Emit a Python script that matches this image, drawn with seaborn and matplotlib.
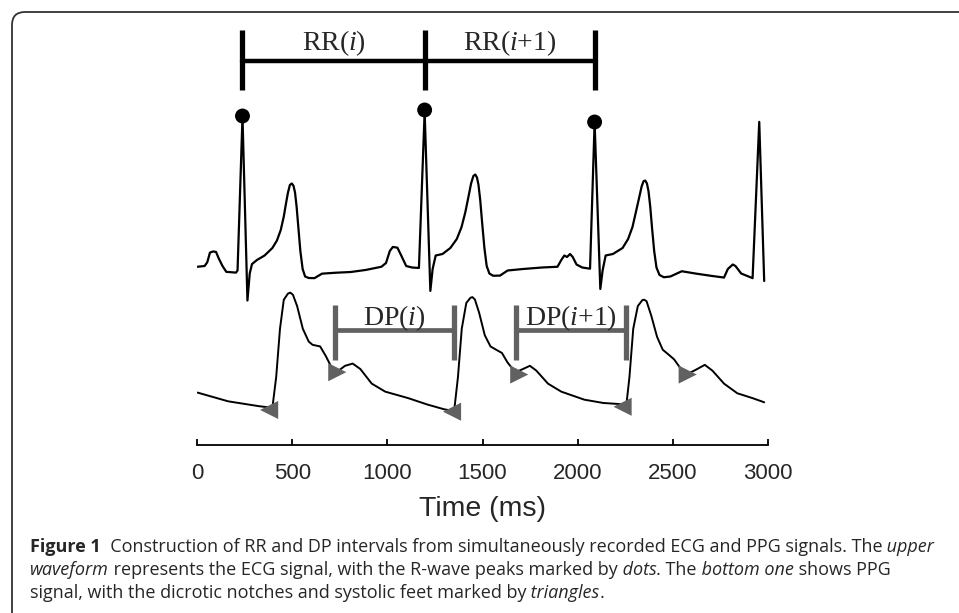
import matplotlib
matplotlib.use("Agg")
import matplotlib.pyplot as plt
import seaborn as sns
from matplotlib.patches import FancyBboxPatch
from matplotlib.transforms import IdentityTransform

# ECG trace (time in ms, amplitude in mV)
ecg_time = [3, 40, 54, 68, 84, 100, 114, 134, 154, 205, 213,
            239, 265, 277, 289, 315, 355, 396, 420, 440, 456, 468, 478, 488, 498, 507, 515, 523,
            533, 543, 555, 568, 587, 617,
            657, 727, 808, 888, 969,
            993, 1013, 1029, 1053, 1073, 1099, 1130, 1166,
            1196, 1226, 1238, 1254, 1290, 1331, 1365, 1390, 1410, 1426, 1440, 1452, 1462, 1471,
            1479, 1488, 1498, 1510, 1522, 1536, 1556,
            1592, 1632, 1713, 1813, 1894,
            1914, 1930, 1944, 1960, 1974, 1994, 2024, 2065,
            2089, 2119, 2131, 2147, 2185, 2236, 2265, 2288, 2306, 2322, 2336, 2346, 2355, 2364,
            2372, 2381, 2391, 2402, 2414, 2430, 2453,
            2487, 2547, 2618, 2698, 2769,
            2789, 2815, 2829, 2859, 2919,
            2954, 2980]
ecg_mv = [-0.005, 0.0, 0.025, 0.089, 0.097, 0.094, 0.051, 0.0, -0.039, -0.044, -0.03,
          0.995, -0.23, -0.05, 0.013, 0.04, 0.07, 0.12, 0.17, 0.24, 0.33, 0.42, 0.49, 0.54, 0.55, 0.535, 0.49, 0.40,
          0.25, 0.10, -0.02, -0.07, -0.08, -0.081,
          -0.051, -0.045, -0.04, -0.026, -0.005,
          0.02, 0.10, 0.127, 0.122, 0.07, 0.0, -0.01, -0.013,
          1.028, -0.166, -0.02, 0.07, 0.08, 0.12, 0.18, 0.26, 0.36, 0.46, 0.55, 0.60, 0.61, 0.59,
          0.54, 0.44, 0.29, 0.12, 0.0, -0.05, -0.065,
          -0.064, -0.03, -0.02, -0.01, -0.005,
          0.04, 0.07, 0.06, 0.08, 0.06, 0.01, -0.01, -0.018,
          0.957, -0.153, -0.03, 0.07, 0.08, 0.12, 0.18, 0.26, 0.36, 0.45, 0.53, 0.565, 0.57, 0.55,
          0.50, 0.40, 0.25, 0.10, -0.01, -0.06, -0.075,
          -0.07, -0.035, -0.05, -0.065, -0.077,
          -0.02, 0.01, 0.0, -0.05, -0.081,
          0.961, -0.10]

# R-wave peaks and RR interval labels
r_peak_time = [239, 1196, 2089]
r_peak_mv = [1.00, 1.04, 0.96]
rr_labels = ["RR($i$)", "RR($i$+1)"]

# PPG trace (time in ms, normalised amplitude)
ppg_time = [3, 164, 325, 396, 416, 436, 456, 478, 490, 504, 526, 556, 587, 607, 647, 677, 707, 737,
            778, 818, 858, 918, 989, 1110, 1210, 1300, 1351, 1371, 1391, 1415, 1437, 1447, 1460,
            1482, 1512, 1542, 1572, 1602, 1632, 1673, 1713, 1749, 1783, 1844, 1914, 2035, 2135,
            2256, 2272, 2292, 2316, 2340, 2350, 2362, 2387, 2417, 2447, 2477, 2507, 2537, 2578,
            2618, 2668, 2708, 2769, 2839, 2919, 2980]
ppg_amp = [0.156, 0.082, 0.041, 0.027, 0.287, 0.697, 0.943, 0.995, 1.003, 0.985, 0.889, 0.697,
           0.588, 0.561, 0.547, 0.465, 0.369, 0.334, 0.383, 0.402, 0.356, 0.232, 0.164, 0.109,
           0.055, 0.014, 0.0, 0.287, 0.697, 0.916, 0.96, 0.965, 0.945, 0.834, 0.642, 0.547, 0.519,
           0.492, 0.410, 0.328, 0.356, 0.383, 0.342, 0.232, 0.164, 0.096, 0.068, 0.055, 0.287,
           0.697, 0.889, 0.94, 0.943, 0.93, 0.806, 0.629, 0.519, 0.479, 0.437, 0.369, 0.314, 0.347,
           0.391, 0.342, 0.232, 0.150, 0.109, 0.074]

# systolic feet and dicrotic notches
foot_time = [379, 1340, 2236]
foot_amp = [0.009, -0.006, 0.036]
notch_time = [737, 1693, 2578]
notch_amp = [0.329, 0.309, 0.309]

# DP intervals
dp_start = [724, 1678]
dp_end = [1350, 2252]
dp_labels = ["DP($i$)", "DP($i$+1)"]

x_ticks = [0, 500, 1000, 1500, 2000, 2500, 3000]

caption = [
    [("Figure 1", "b"),
     ("  Construction of RR and DP intervals from simultaneously recorded ECG and PPG signals. The", "n"),
     (" upper", "i")],
    [("waveform", "i"), (" represents the ECG signal, with the R-wave peaks marked by", "n"),
     (" dots", "i"), (". The", "n"), (" bottom one", "i"), (" shows PPG", "n")],
    [("signal, with the dicrotic notches and systolic feet marked by", "n"), (" triangles", "i"), (".", "n")],
]

W, H = 959, 613
GREY = "#616161"


def px_axes(fig, x0, y0, x1, y1):
    ax = fig.add_axes([x0 / W, 1 - y1 / H, (x1 - x0) / W, (y1 - y0) / H])
    ax.patch.set_alpha(0)
    return ax


def draw_line(fig, renderer, x_px, y_px, parts, size):
    x = x_px
    for text, style in parts:
        t = fig.text(x / W, 1 - y_px / H, text, fontsize=size, family="Open Sans",
                     fontweight="bold" if style == "b" else "normal",
                     fontstyle="italic" if style == "i" else "normal", va="baseline")
        x += t.get_window_extent(renderer).width
    return x - x_px


def main():
    sns.set_theme(style="white")
    plt.rcParams["font.family"] = ["Liberation Sans", "DejaVu Sans"]
    plt.rcParams["mathtext.fontset"] = "custom"
    plt.rcParams["mathtext.rm"] = "Liberation Serif"
    plt.rcParams["mathtext.it"] = "Liberation Serif:italic"

    fig = plt.figure(figsize=(W / 100, H / 100), dpi=100)
    fig.patch.set_facecolor("white")

    # rounded frame around the figure panel
    frame = FancyBboxPatch((12, -60), 1010, 661, boxstyle="round,pad=0,rounding_size=13",
                           transform=IdentityTransform(), facecolor="none",
                           edgecolor="#333333", lw=1.3)
    fig.add_artist(frame)

    ax_ppg = px_axes(fig, 197, 280, 768, 445)
    ax_ecg = px_axes(fig, 197, 20, 768, 320)

    # --- ECG ---
    sns.lineplot(x=ecg_time, y=ecg_mv, ax=ax_ecg, color="black", lw=1.6,
                 estimator=None, sort=False)
    sns.scatterplot(x=r_peak_time, y=r_peak_mv, ax=ax_ecg, color="black", s=115,
                    marker="o", edgecolor="none", zorder=5, clip_on=False)
    ax_ecg.vlines(r_peak_time, 1.173, 1.573, color="black", lw=3.8)
    for i, lab in enumerate(rr_labels):
        ax_ecg.plot([r_peak_time[i], r_peak_time[i + 1]], [1.367, 1.367], color="black", lw=3.2)
        ax_ecg.text((r_peak_time[i] + r_peak_time[i + 1]) / 2, 1.487, lab, ha="center",
                    va="center", fontsize=20, family="Liberation Serif")
    ax_ecg.set_xlim(0, 3000)
    ax_ecg.set_ylim(-0.36, 1.64)
    ax_ecg.axis("off")

    # --- PPG ---
    sns.lineplot(x=ppg_time, y=ppg_amp, ax=ax_ppg, color="black", lw=1.4,
                 estimator=None, sort=False)
    sns.scatterplot(x=foot_time, y=foot_amp, ax=ax_ppg, color=GREY, s=170, marker="<",
                    edgecolor="none", zorder=5, clip_on=False)
    sns.scatterplot(x=notch_time, y=notch_amp, ax=ax_ppg, color=GREY, s=170, marker=">",
                    edgecolor="none", zorder=5, clip_on=False)
    ax_ppg.vlines(dp_start + dp_end, 0.432, 0.898, color=GREY, lw=3.8)
    for i, lab in enumerate(dp_labels):
        ax_ppg.plot([dp_start[i], dp_end[i]], [0.686, 0.686], color=GREY, lw=3.4)
        ax_ppg.text((dp_start[i] + dp_end[i]) / 2, 0.79, lab, ha="center", va="center",
                    fontsize=20, family="Liberation Serif")
    ax_ppg.set_xlim(0, 3000)
    ax_ppg.set_ylim(-0.288, 1.110)
    sns.despine(ax=ax_ppg, left=True)
    ax_ppg.spines["bottom"].set_color("black")
    ax_ppg.spines["bottom"].set_linewidth(1.3)
    ax_ppg.set_yticks([])
    ax_ppg.set_xticks(x_ticks)
    ax_ppg.set_xticklabels([str(t) for t in x_ticks])
    ax_ppg.tick_params(axis="x", direction="in", length=4, width=1.3, color="black",
                       labelsize=16, pad=13, bottom=True)
    ax_ppg.set_xlabel("Time (ms)", fontsize=20.5, labelpad=8.5)
    ax_ppg.set_ylabel("")

    # --- caption, sized so the first line fills the panel width ---
    renderer = fig.canvas.get_renderer()
    probe = draw_line(fig, renderer, 30, -100, caption[0], 10)
    for t in list(fig.texts):
        t.remove()
    size = 10 * 909 / probe
    for k, parts in enumerate(caption):
        draw_line(fig, renderer, 30, 552 + 23 * k, parts, size)

    fig.savefig("out.png", dpi=100)
    plt.close(fig)


if __name__ == "__main__":
    main()
